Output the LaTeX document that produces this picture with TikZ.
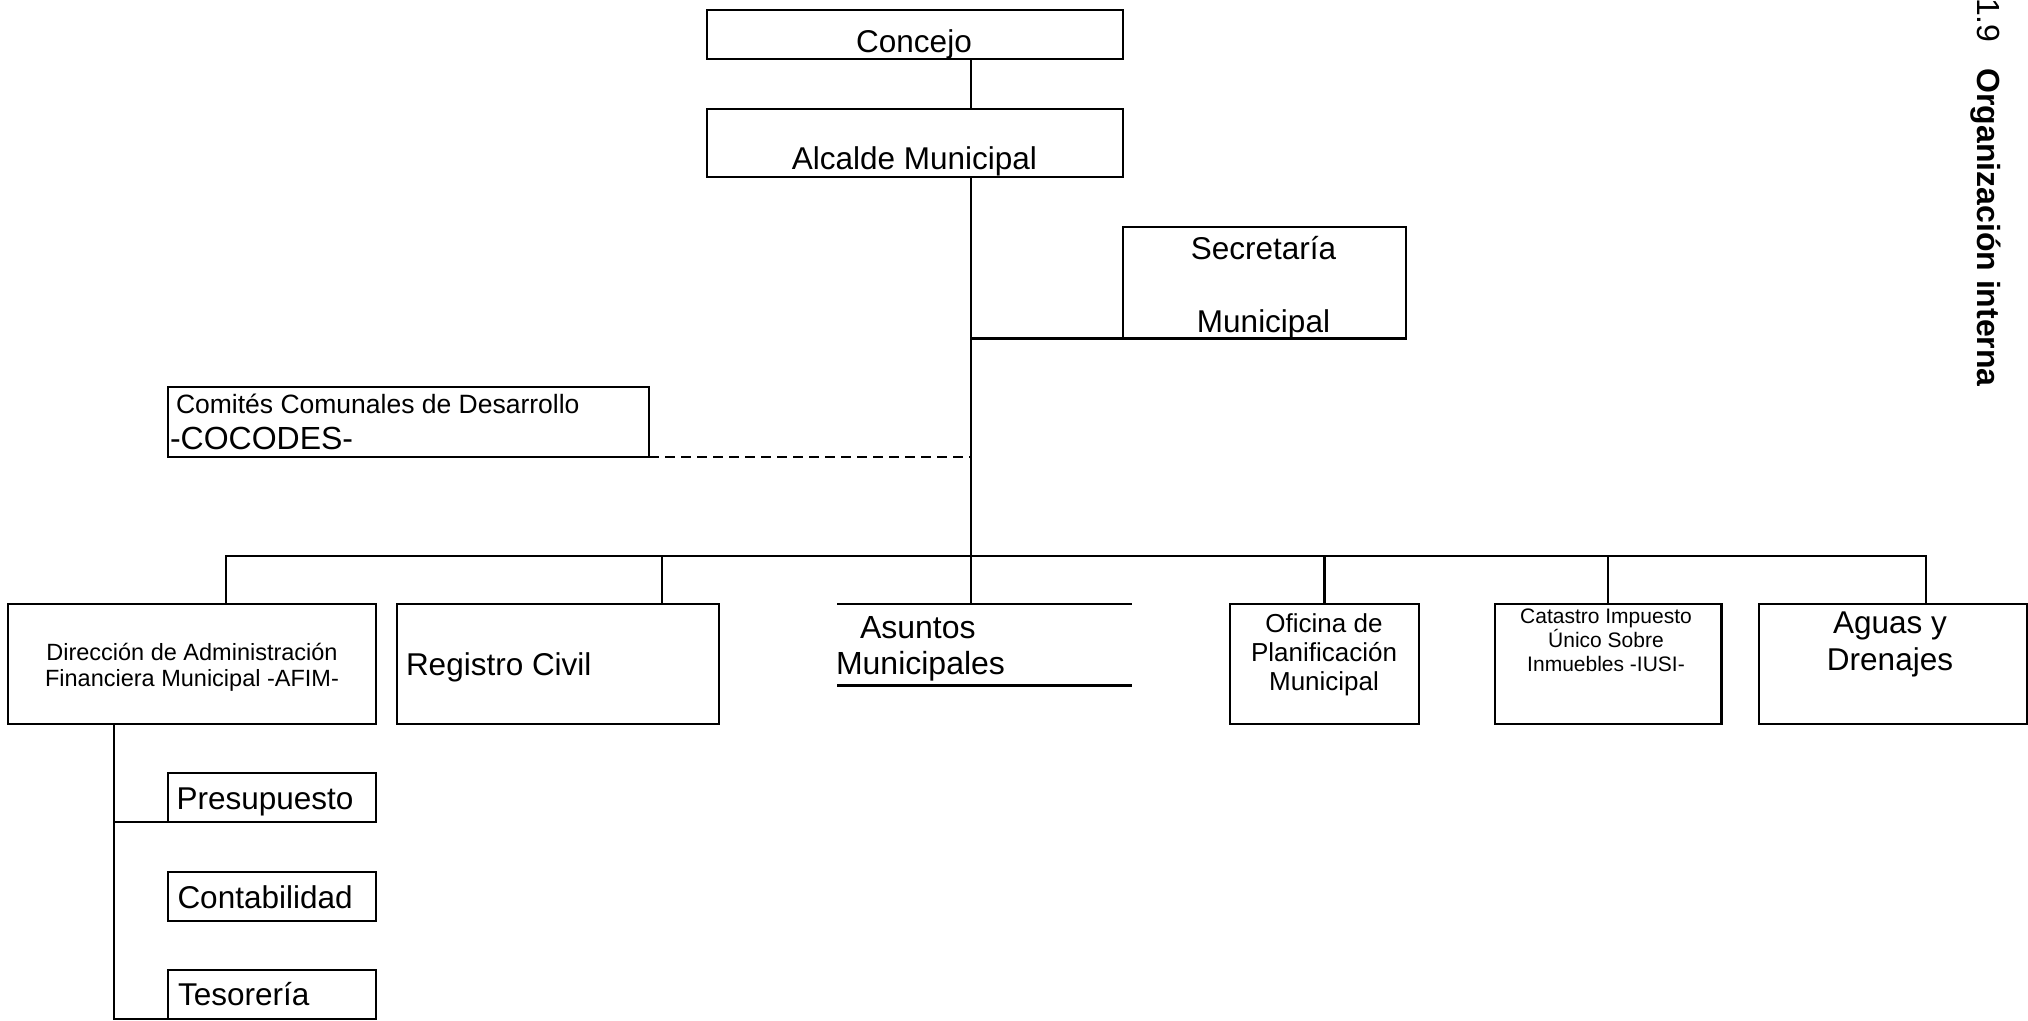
\documentclass[tikz,border=0pt]{standalone}
\usepackage{fontspec}
\setmainfont{Liberation Sans}
\begin{document}
\begin{tikzpicture}[x=1pt,y=-1pt,
  box/.style={draw, line width=2.2pt, inner sep=0pt, outer sep=0pt},
  ln/.style={line width=2.2pt, line cap=rect},
  dl/.style={line width=2.2pt, dash pattern=on 10pt off 6pt},
  txt/.style={inner sep=0pt, outer sep=0pt, font=\fontsize{31.5}{36}\selectfont},
]
\useasboundingbox (0,0) rectangle (2028,1020);

% boxes
\node[box, minimum width=416pt, minimum height=49pt] (concejo) at (915,34.5) {};
\node[box, minimum width=416pt, minimum height=68pt] (alcalde) at (915,143) {};
\node[box, minimum width=283pt, minimum height=111.5pt] (secret) at (1264.5,282.75) {};
\node[box, minimum width=481pt, minimum height=70pt] (cocodes) at (408.5,422) {};
\node[box, minimum width=368pt, minimum height=120pt] (afim) at (192,664) {};
\node[box, minimum width=322pt, minimum height=120pt] (registro) at (558,664) {};
\node[inner sep=0pt, outer sep=0pt, minimum width=292.5pt, minimum height=81.5pt] (asuntos) at (984.25,644.75) {};
\node[box, minimum width=189pt, minimum height=120pt] (oficina) at (1324.5,664) {};
\node[box, minimum width=226.5pt, minimum height=120pt] (catastro) at (1608.25,664) {};
\node[box, minimum width=268pt, minimum height=120pt] (aguas) at (1893,664) {};
\node[box, minimum width=208pt, minimum height=49pt] (presup) at (272,797.5) {};
\node[box, minimum width=208pt, minimum height=49pt] (contab) at (272,896.5) {};
\node[box, minimum width=208pt, minimum height=49pt] (tesor) at (272,994.5) {};

% texts (base anchor = baseline of the last line)
\node[txt, anchor=base] (concejo-t) at (914,52) {Concejo};
\node[txt, anchor=base] (alcalde-t) at (914.5,169) {Alcalde Municipal};
\node[txt, anchor=base, align=center, font=\fontsize{31.5}{73.3}\selectfont] (secret-t) at (1263.5,332.5) {Secretaría\\Municipal};
\node[txt, anchor=base west, align=left, font=\fontsize{26.5}{36}\selectfont] (cocodes-t) at (170,449) {\hspace*{6pt}Comités Comunales de Desarrollo\\{\fontsize{32}{36}\selectfont -COCODES-}};
\node[txt, anchor=base, align=center, font=\fontsize{23.5}{26.7}\selectfont] (afim-t) at (192,686.7) {Dirección de Administración\\Financiera Municipal -AFIM-};
\node[txt, anchor=base west] (registro-t) at (406,675) {Registro Civil};
\node[txt, anchor=base west, align=left, font=\fontsize{32}{36}\selectfont] (asuntos-t) at (836,674) {\hspace*{24pt}Asuntos\\Municipales};
\node[txt, anchor=base, align=center, font=\fontsize{26}{29}\selectfont] (oficina-t) at (1324,690) {Oficina de\\Planificación\\Municipal};
\node[txt, anchor=base, align=center, font=\fontsize{21}{24}\selectfont] (catastro-t) at (1606,671) {Catastro Impuesto\\Único Sobre\\Inmuebles -IUSI-};
\node[txt, anchor=base, align=center, font=\fontsize{31.5}{36.7}\selectfont] (aguas-t) at (1890,670) {Aguas y\\Drenajes};
\node[txt, anchor=base west] (presup-t) at (176.5,809) {Presupuesto};
\node[txt, anchor=base west] (contab-t) at (177.5,908.3) {Contabilidad};
\node[txt, anchor=base west] (tesor-t) at (178,1005) {Tesorería};
\node[txt, anchor=base west, rotate=-90, font=\fontsize{32}{36}\selectfont] (title) at (1977,-2) {1.9\hspace{26pt}\textbf{Organización interna}};

% connectors
\coordinate (tx) at (971,0);
\draw[ln] (concejo.south -| tx) -- (alcalde.north -| tx);
\draw[ln] (alcalde.south -| tx) -- (asuntos.north -| tx);
\draw[ln] (secret.south -| tx) -- (secret.south west);
\draw[dl] (cocodes.south east) -- (cocodes.south -| tx);
\draw[ln] (asuntos.north west) -- (asuntos.north east);
\draw[ln] (asuntos.south west) -- (asuntos.south east);
\coordinate (busL) at (226,556);
\coordinate (busR) at (1926,556);
\coordinate (dR) at (662,556);
\draw[ln] (busL) -- (busR);
\draw[ln] (busL) -- (busL |- afim.north);
\draw[ln] (dR) -- (dR |- registro.north);
\draw[ln] (oficina.north |- busL) -- (oficina.north);
\draw[ln] (catastro.north |- busL) -- (catastro.north);
\draw[ln] (busR) -- (busR |- aguas.north);
\coordinate (sx) at (114,0);
\draw[ln] (afim.south -| sx) -- (tesor.south -| sx) -- (tesor.south west);
\draw[ln] (presup.south -| sx) -- (presup.south west);
\end{tikzpicture}
\end{document}
